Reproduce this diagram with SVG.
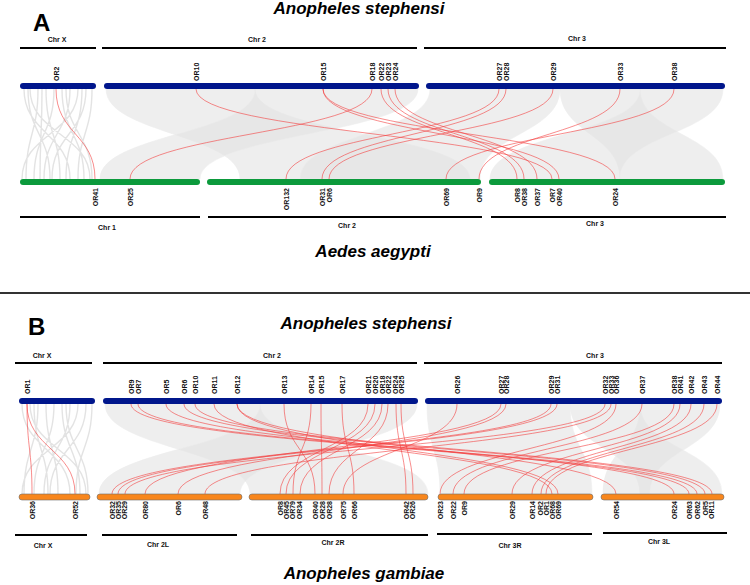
<svg xmlns="http://www.w3.org/2000/svg" width="750" height="585" viewBox="0 0 750 585">
<style>
.t{font-family:"Liberation Sans",Arial,sans-serif;font-weight:bold;font-style:italic;font-size:17px;fill:#000;text-anchor:middle}
.p{font-family:"Liberation Sans",Arial,sans-serif;font-weight:bold;font-size:24px;fill:#000}
.c{font-family:"Liberation Sans",Arial,sans-serif;font-weight:bold;font-size:7px;fill:#111;text-anchor:middle}
.l{font-family:"Liberation Sans",Arial,sans-serif;font-weight:bold;font-size:7px;fill:#111}
.e{text-anchor:end}
.ax{stroke:#000;stroke-width:2}
.blue{fill:#00168c}
.green{fill:#0c9a3c}
.orange{fill:#f8861c;stroke:#6b6b6b;stroke-width:0.6}
.rib{fill:#e3e3e3;fill-opacity:0.6;stroke:#ececec;stroke-width:0.5}
.g{fill:none;stroke:#e0e0e0;stroke-width:1.4;stroke-opacity:0.9}
.r{fill:none;stroke:#f43c3c;stroke-width:0.7;stroke-opacity:0.85}
</style>

<text class="p" x="33" y="31">A</text>
<text class="t" x="359" y="14">Anopheles stephensi</text>
<text class="t" x="373" y="257">Aedes aegypti</text>
<line x1="0" y1="293" x2="750" y2="293" stroke="#333" stroke-width="2"/>
<text class="p" x="28" y="335">B</text>
<text class="t" x="366" y="329">Anopheles stephensi</text>
<text class="t" x="364" y="579">Anopheles gambiae</text>

<g id="connectors">
<!-- Panel A synteny background -->
<path class="g" d="M24 89C24 134 70 134 70 179M30 89C30 134 90 134 90 179M38 89C38 134 26 134 26 179M46 89C46 134 60 134 60 179M54 89C54 134 34 134 34 179M62 89C62 134 84 134 84 179M70 89C70 134 44 134 44 179M78 89C78 134 22 134 22 179M86 89C86 134 52 134 52 179M92 89C92 134 78 134 78 179M28 89C28 134 50 134 50 179M66 89C66 134 92 134 92 179M42 89C42 134 40 134 40 179M82 89C82 134 66 134 66 179"/>
<path class="rib" d="M106 89C106 134 240 134 240 179L470 179C470 134 255 134 255 89Z"/>
<path class="rib" d="M255 89C255 134 100 134 100 179L200 179C200 134 418 134 418 89Z"/>
<path class="rib" d="M430 89C430 134 300 134 300 179L480 179C480 134 560 134 560 89Z"/>
<path class="rib" d="M560 89C560 134 620 134 620 179L723 179C723 134 640 134 640 89Z"/>
<path class="rib" d="M640 89C640 134 490 134 490 179L620 179C620 134 723 134 723 89Z"/>
<!-- Panel A red links -->
<path class="r" d="M56 89C56 134 95 134 95 179M196 89C196 134 552 134 552 179M323 89C323 134 559 134 559 179M323 89C323 134 615 134 615 179M372 89C372 134 130 134 130 179M381 89C381 134 517 134 517 179M388 89C388 134 524 134 524 179M395 89C395 134 537 134 537 179M499 89C499 134 286 134 286 179M506 89C506 134 322 134 322 179M553 89C553 134 329 134 329 179M620 89C620 134 479 134 479 179M674 89C674 134 446 134 446 179"/>

<!-- Panel B synteny background -->
<path class="g" d="M22 404C22 449 70 449 70 494M30 404C30 449 86 449 86 494M38 404C38 449 24 449 24 494M46 404C46 449 58 449 58 494M54 404C54 449 34 449 34 494M62 404C62 449 80 449 80 494M70 404C70 449 44 449 44 494M78 404C78 449 22 449 22 494M86 404C86 449 50 449 50 494M92 404C92 449 76 449 76 494M34 404C34 449 48 449 48 494M66 404C66 449 88 449 88 494"/>
<path class="rib" d="M105 404C105 449 250 449 250 494L428 494C428 449 260 449 260 404Z"/>
<path class="rib" d="M260 404C260 449 99 449 99 494L240 494C240 449 417 449 417 404Z"/>
<path class="rib" d="M427 404C427 449 440 449 440 494L592 494C592 449 570 449 570 404Z"/>
<path class="rib" d="M570 404C570 449 640 449 640 494L722 494C722 449 640 449 640 404Z"/>
<path class="rib" d="M640 404C640 449 603 449 603 494L650 494C650 449 720 449 720 404Z"/>
<!-- Panel B red links -->
<path class="r" d="M27 404C27 449 32 449 32 494M27 404C27 449 75 449 75 494M131 404C131 449 689 449 689 494M138 404C138 449 697 449 697 494M166 404C166 449 674 449 674 494M184 404C184 449 705 449 705 494M195 404C195 449 712 449 712 494M214 404C214 449 552 449 552 494M237 404C237 449 558 449 558 494M237 404C237 449 616 449 616 494M284 404C284 449 315 449 315 494M311 404C311 449 293 449 293 494M321 404C321 449 322 449 322 494M342 404C342 449 354 449 354 494M368 404C368 449 280 449 280 494M375 404C375 449 286 449 286 494M382 404C382 449 300 449 300 494M388 404C388 449 329 449 329 494M396 404C396 449 406 449 406 494M401 404C401 449 413 449 413 494M457 404C457 449 343 449 343 494M501 404C501 449 145 449 145 494M506 404C506 449 178 449 178 494M551 404C551 449 112 449 112 494M557 404C557 449 118 449 118 494M605 404C605 449 125 449 125 494M611 404C611 449 205 449 205 494M616 404C616 449 440 449 440 494M642 404C642 449 453 449 453 494M674 404C674 449 464 449 464 494M680 404C680 449 512 449 512 494M691 404C691 449 532 449 532 494M704 404C704 449 541 449 541 494M717 404C717 449 546 449 546 494"/>
</g>

<!-- ===== Panel A: An. stephensi ===== -->
<g id="A-ste-chrX">
<line class="ax" x1="20" y1="48" x2="96" y2="48"/>
<text class="c" x="57" y="42">Chr X</text>
<rect class="blue" x="20" y="83" width="76" height="6" rx="3"/>
<text class="l" transform="translate(58.5,81) rotate(-90)">OR2</text>
</g>
<g id="A-ste-chr2">
<line class="ax" x1="102" y1="48" x2="417" y2="48"/>
<text class="c" x="257" y="42">Chr 2</text>
<rect class="blue" x="104" y="83" width="315" height="6" rx="3"/>
<text class="l" transform="translate(198.5,81) rotate(-90)">OR10</text>
<text class="l" transform="translate(325.5,81) rotate(-90)">OR15</text>
<text class="l" transform="translate(374.5,81) rotate(-90)">OR18</text>
<text class="l" transform="translate(383.5,81) rotate(-90)">OR22</text>
<text class="l" transform="translate(390.5,81) rotate(-90)">OR23</text>
<text class="l" transform="translate(397.5,81) rotate(-90)">OR24</text>
</g>
<g id="A-ste-chr3">
<line class="ax" x1="424" y1="48" x2="726" y2="48"/>
<text class="c" x="577" y="41">Chr 3</text>
<rect class="blue" x="426" y="83" width="299" height="6" rx="3"/>
<text class="l" transform="translate(501.5,81) rotate(-90)">OR27</text>
<text class="l" transform="translate(508.5,81) rotate(-90)">OR28</text>
<text class="l" transform="translate(555.5,81) rotate(-90)">OR29</text>
<text class="l" transform="translate(622.5,81) rotate(-90)">OR33</text>
<text class="l" transform="translate(676.5,81) rotate(-90)">OR38</text>
</g>

<!-- ===== Panel A: Ae. aegypti ===== -->
<g id="A-aeg-chr1">
<rect class="green" x="20" y="179" width="180" height="6" rx="3"/>
<text class="l e" transform="translate(97.5,188) rotate(-90)">OR41</text>
<text class="l e" transform="translate(132.5,188) rotate(-90)">OR25</text>
<line class="ax" x1="20" y1="217" x2="200" y2="217"/>
<text class="c" x="107" y="230">Chr 1</text>
</g>
<g id="A-aeg-chr2">
<rect class="green" x="207" y="179" width="274" height="6" rx="3"/>
<text class="l e" transform="translate(288.5,188) rotate(-90)">OR132</text>
<text class="l e" transform="translate(324.5,188) rotate(-90)">OR31</text>
<text class="l e" transform="translate(331.5,188) rotate(-90)">OR6</text>
<text class="l e" transform="translate(448.5,188) rotate(-90)">OR69</text>
<text class="l e" transform="translate(481.5,188) rotate(-90)">OR9</text>
<line class="ax" x1="208" y1="217" x2="482" y2="217"/>
<text class="c" x="347" y="228">Chr 2</text>
</g>
<g id="A-aeg-chr3">
<rect class="green" x="489" y="179" width="236" height="6" rx="3"/>
<text class="l e" transform="translate(519.5,188) rotate(-90)">OR8</text>
<text class="l e" transform="translate(526.5,188) rotate(-90)">OR38</text>
<text class="l e" transform="translate(539.5,188) rotate(-90)">OR37</text>
<text class="l e" transform="translate(554.5,188) rotate(-90)">OR7</text>
<text class="l e" transform="translate(561.5,188) rotate(-90)">OR40</text>
<text class="l e" transform="translate(617.5,188) rotate(-90)">OR24</text>
<line class="ax" x1="491" y1="217" x2="726" y2="217"/>
<text class="c" x="595" y="226">Chr 3</text>
</g>

<!-- ===== Panel B: An. stephensi ===== -->
<g id="B-ste-chrX">
<line class="ax" x1="15" y1="363" x2="92" y2="363"/>
<text class="c" x="42" y="358">Chr X</text>
<rect class="blue" x="19" y="398" width="76" height="6" rx="3"/>
<text class="l" transform="translate(29.5,394) rotate(-90)">OR1</text>
</g>
<g id="B-ste-chr2">
<line class="ax" x1="103" y1="363" x2="417" y2="363"/>
<text class="c" x="272" y="358">Chr 2</text>
<rect class="blue" x="103" y="398" width="315" height="6" rx="3"/>
<text class="l" transform="translate(133.5,394) rotate(-90)">OR9</text>
<text class="l" transform="translate(140.5,394) rotate(-90)">OR7</text>
<text class="l" transform="translate(168.5,394) rotate(-90)">OR5</text>
<text class="l" transform="translate(186.5,394) rotate(-90)">OR6</text>
<text class="l" transform="translate(197.5,394) rotate(-90)">OR10</text>
<text class="l" transform="translate(216.5,394) rotate(-90)">OR11</text>
<text class="l" transform="translate(239.5,394) rotate(-90)">OR12</text>
<text class="l" transform="translate(286.5,394) rotate(-90)">OR13</text>
<text class="l" transform="translate(313.5,394) rotate(-90)">OR14</text>
<text class="l" transform="translate(323.5,394) rotate(-90)">OR15</text>
<text class="l" transform="translate(344.5,394) rotate(-90)">OR17</text>
<text class="l" transform="translate(370.5,394) rotate(-90)">OR21</text>
<text class="l" transform="translate(377.5,394) rotate(-90)">OR20</text>
<text class="l" transform="translate(384.5,394) rotate(-90)">OR18</text>
<text class="l" transform="translate(390.5,394) rotate(-90)">OR22</text>
<text class="l" transform="translate(397.5,394) rotate(-90)">OR24</text>
<text class="l" transform="translate(403.5,394) rotate(-90)">OR25</text>
</g>
<g id="B-ste-chr3">
<line class="ax" x1="424" y1="363" x2="722" y2="363"/>
<text class="c" x="595" y="358">Chr 3</text>
<rect class="blue" x="425" y="398" width="297" height="6" rx="3"/>
<text class="l" transform="translate(459.5,394) rotate(-90)">OR26</text>
<text class="l" transform="translate(503.5,394) rotate(-90)">OR27</text>
<text class="l" transform="translate(509,394) rotate(-90)">OR28</text>
<text class="l" transform="translate(553.5,394) rotate(-90)">OR29</text>
<text class="l" transform="translate(559.5,394) rotate(-90)">OR31</text>
<text class="l" transform="translate(607.5,394) rotate(-90)">OR32</text>
<text class="l" transform="translate(613.5,394) rotate(-90)">OR33</text>
<text class="l" transform="translate(619,394) rotate(-90)">OR36</text>
<text class="l" transform="translate(644.5,394) rotate(-90)">OR37</text>
<text class="l" transform="translate(676.5,394) rotate(-90)">OR38</text>
<text class="l" transform="translate(682.5,394) rotate(-90)">OR41</text>
<text class="l" transform="translate(693.5,394) rotate(-90)">OR42</text>
<text class="l" transform="translate(706.5,394) rotate(-90)">OR43</text>
<text class="l" transform="translate(719.5,394) rotate(-90)">OR44</text>
</g>

<!-- ===== Panel B: An. gambiae ===== -->
<g id="B-gam-chrX">
<rect class="orange" x="19" y="494" width="71" height="6" rx="3"/>
<text class="l e" transform="translate(34.5,501) rotate(-90)">OR36</text>
<text class="l e" transform="translate(77.5,501) rotate(-90)">OR52</text>
<line class="ax" x1="15" y1="535" x2="87" y2="535"/>
<text class="c" x="43" y="548">Chr X</text>
</g>
<g id="B-gam-chr2L">
<rect class="orange" x="97" y="494" width="145" height="6" rx="3"/>
<text class="l e" transform="translate(114.5,501) rotate(-90)">OR32</text>
<text class="l e" transform="translate(120.5,501) rotate(-90)">OR35</text>
<text class="l e" transform="translate(127,501) rotate(-90)">OR29</text>
<text class="l e" transform="translate(147.5,501) rotate(-90)">OR80</text>
<text class="l e" transform="translate(180.5,501) rotate(-90)">OR6</text>
<text class="l e" transform="translate(207.5,501) rotate(-90)">OR48</text>
<line class="ax" x1="102" y1="535" x2="237" y2="535"/>
<text class="c" x="158" y="547">Chr 2L</text>
</g>
<g id="B-gam-chr2R">
<rect class="orange" x="249" y="494" width="179" height="6" rx="3"/>
<text class="l e" transform="translate(282.5,501) rotate(-90)">OR8</text>
<text class="l e" transform="translate(288.5,501) rotate(-90)">OR45</text>
<text class="l e" transform="translate(295,501) rotate(-90)">OR79</text>
<text class="l e" transform="translate(302,501) rotate(-90)">OR34</text>
<text class="l e" transform="translate(317.5,501) rotate(-90)">OR40</text>
<text class="l e" transform="translate(324.5,501) rotate(-90)">OR28</text>
<text class="l e" transform="translate(331.5,501) rotate(-90)">OR28</text>
<text class="l e" transform="translate(345.5,501) rotate(-90)">OR75</text>
<text class="l e" transform="translate(356.5,501) rotate(-90)">OR66</text>
<text class="l e" transform="translate(408.5,501) rotate(-90)">OR42</text>
<text class="l e" transform="translate(415,501) rotate(-90)">OR26</text>
<line class="ax" x1="251" y1="535" x2="428" y2="535"/>
<text class="c" x="333" y="545">Chr 2R</text>
</g>
<g id="B-gam-chr3R">
<rect class="orange" x="438" y="494" width="155" height="6" rx="3"/>
<text class="l e" transform="translate(442.5,501) rotate(-90)">OR23</text>
<text class="l e" transform="translate(455.5,501) rotate(-90)">OR22</text>
<text class="l e" transform="translate(466.5,501) rotate(-90)">OR9</text>
<text class="l e" transform="translate(514.5,501) rotate(-90)">OR29</text>
<text class="l e" transform="translate(534.5,501) rotate(-90)">OR14</text>
<text class="l e" transform="translate(543,501) rotate(-90)">OR2</text>
<text class="l e" transform="translate(548.5,501) rotate(-90)">OR1</text>
<text class="l e" transform="translate(554.5,501) rotate(-90)">OR68</text>
<text class="l e" transform="translate(560.5,501) rotate(-90)">OR69</text>
<line class="ax" x1="437" y1="534" x2="592" y2="534"/>
<text class="c" x="510" y="548">Chr 3R</text>
</g>
<g id="B-gam-chr3L">
<rect class="orange" x="601" y="494" width="123" height="6" rx="3"/>
<text class="l e" transform="translate(618.5,501) rotate(-90)">OR54</text>
<text class="l e" transform="translate(676.5,501) rotate(-90)">OR24</text>
<text class="l e" transform="translate(691.5,501) rotate(-90)">OR63</text>
<text class="l e" transform="translate(699.5,501) rotate(-90)">OR62</text>
<text class="l e" transform="translate(707.5,501) rotate(-90)">OR5</text>
<text class="l e" transform="translate(714,501) rotate(-90)">OR11</text>
<line class="ax" x1="603" y1="533" x2="727" y2="533"/>
<text class="c" x="659" y="544">Chr 3L</text>
</g>
</svg>
